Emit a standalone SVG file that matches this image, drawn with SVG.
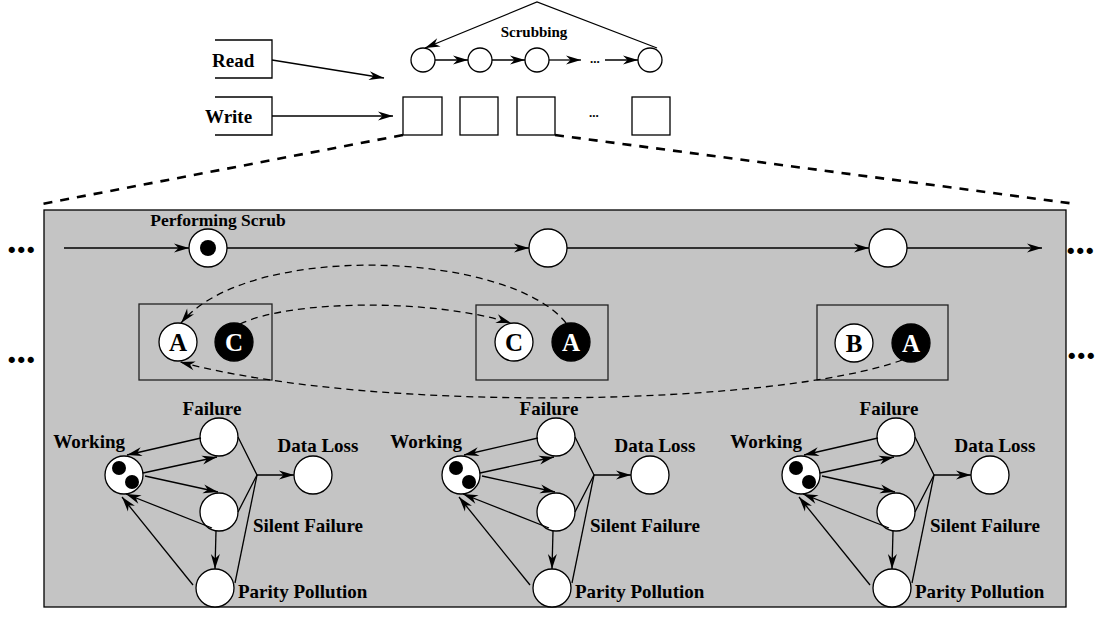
<svg xmlns="http://www.w3.org/2000/svg" width="1096" height="629" viewBox="0 0 1096 629">
<style>
text{font-family:"Liberation Serif","Times New Roman",serif;font-weight:bold;fill:#000}
.lbl{font-size:19px}
.ln{stroke:#000;stroke-width:1.3;fill:none}
.arr{stroke:#000;stroke-width:1.3;fill:none;marker-end:url(#ah)}
.dash{stroke:#000;stroke-width:1.3;fill:none;stroke-dasharray:7 5}
.wc{fill:#fff;stroke:#000;stroke-width:1.3}
.bc{fill:#000;stroke:#000;stroke-width:1.3}
.big{font-size:38px}
.let{font-size:25px;text-anchor:middle}
</style>
<defs>
<marker id="ah" markerUnits="userSpaceOnUse" markerWidth="16" markerHeight="9" refX="15" refY="4.5" orient="auto" overflow="visible">
<path d="M0,0 L15,4.5 L0,9 L4.5,4.5 z" fill="#000"/>
</marker>
</defs>
<rect width="1096" height="629" fill="#fff"/>

<g id="top-inputs">
<path class="ln" d="M215,40 H272 V78 H215"/>
<text class="lbl" x="212" y="67">Read</text>
<path class="ln" d="M215,97 H272 V135 H215"/>
<text class="lbl" x="205" y="123">Write</text>
</g>

<g id="scrub-chain">
<circle class="wc" cx="423" cy="60" r="12"/>
<circle class="wc" cx="480" cy="60" r="12"/>
<circle class="wc" cx="537" cy="60" r="12"/>
<circle class="wc" cx="650" cy="60" r="12"/>
<text x="590" y="63" style="font-size:13px">...</text>
<text x="534" y="37" style="font-size:15px" text-anchor="middle">Scrubbing</text>
</g>

<g id="blocks">
<rect class="ln" x="403" y="97" width="39" height="38"/>
<rect class="ln" x="460" y="97" width="38" height="38"/>
<rect class="ln" x="517" y="97" width="38" height="38"/>
<rect class="ln" x="632" y="97" width="38" height="38"/>
<text x="589" y="117" style="font-size:13px">...</text>
</g>

<g id="detail-panel">
<rect x="44" y="210" width="1022" height="397" fill="#c4c4c4" stroke="#000" stroke-width="1.3"/>
</g>

<g id="outer-dots">
<text class="big" x="7" y="253">...</text>
<text class="big" x="7" y="363">...</text>
<text class="big" x="1066" y="254">...</text>
<text class="big" x="1067" y="359">...</text>
</g>

<g id="timeline-1">
<circle class="wc" cx="208" cy="248" r="19"/>
<circle cx="208" cy="248" r="8" fill="#000"/>
<text x="218" y="226" style="font-size:17.5px" text-anchor="middle">Performing Scrub</text>
</g>
<g id="timeline-2"><circle class="wc" cx="548" cy="248" r="19"/></g>
<g id="timeline-3"><circle class="wc" cx="888" cy="248" r="19"/></g>

<g id="state-box-1">
<rect x="139" y="304" width="133" height="76" fill="none" stroke="#222" stroke-width="1.3"/>
<circle class="wc" cx="178" cy="342" r="19"/>
<text class="let" x="178" y="351">A</text>
<circle class="bc" cx="234" cy="342" r="19"/>
<text class="let" x="234" y="351" style="fill:#fff">C</text>
</g>
<g id="state-box-2">
<rect x="476" y="305" width="132" height="75" fill="none" stroke="#222" stroke-width="1.3"/>
<circle class="wc" cx="514" cy="342" r="19"/>
<text class="let" x="514" y="351">C</text>
<circle class="bc" cx="571" cy="342" r="19"/>
<text class="let" x="571" y="351" style="fill:#fff">A</text>
</g>
<g id="state-box-3">
<rect x="817" y="305" width="131" height="75" fill="none" stroke="#222" stroke-width="1.3"/>
<circle class="wc" cx="854" cy="343" r="19"/>
<text class="let" x="854" y="352">B</text>
<circle class="bc" cx="911" cy="343" r="19"/>
<text class="let" x="911" y="352" style="fill:#fff">A</text>
</g>

<g id="markov-1">
<g id="m1-working"><circle class="wc" cx="124" cy="475" r="19"/><circle cx="119" cy="468" r="7"/><circle cx="132" cy="482" r="7"/><text class="lbl" x="125" y="448" text-anchor="end">Working</text></g>
<g id="m1-failure"><circle class="wc" cx="219" cy="437" r="19"/><text class="lbl" x="212" y="415" text-anchor="middle">Failure</text></g>
<g id="m1-silent"><circle class="wc" cx="219" cy="512" r="19"/><text class="lbl" x="253" y="532">Silent Failure</text></g>
<g id="m1-parity"><circle class="wc" cx="215" cy="588" r="19"/><text class="lbl" x="238" y="598">Parity Pollution</text></g>
<g id="m1-loss"><circle class="wc" cx="313" cy="475" r="19"/><text class="lbl" x="318" y="452" text-anchor="middle">Data Loss</text></g>
</g>
<g id="markov-2" transform="translate(337,0)">
<g id="m2-working"><circle class="wc" cx="124" cy="475" r="19"/><circle cx="119" cy="468" r="7"/><circle cx="132" cy="482" r="7"/><text class="lbl" x="125" y="448" text-anchor="end">Working</text></g>
<g id="m2-failure"><circle class="wc" cx="219" cy="437" r="19"/><text class="lbl" x="212" y="415" text-anchor="middle">Failure</text></g>
<g id="m2-silent"><circle class="wc" cx="219" cy="512" r="19"/><text class="lbl" x="253" y="532">Silent Failure</text></g>
<g id="m2-parity"><circle class="wc" cx="215" cy="588" r="19"/><text class="lbl" x="238" y="598">Parity Pollution</text></g>
<g id="m2-loss"><circle class="wc" cx="313" cy="475" r="19"/><text class="lbl" x="318" y="452" text-anchor="middle">Data Loss</text></g>
</g>
<g id="markov-3" transform="translate(677,0)">
<g id="m3-working"><circle class="wc" cx="124" cy="475" r="19"/><circle cx="119" cy="468" r="7"/><circle cx="132" cy="482" r="7"/><text class="lbl" x="125" y="448" text-anchor="end">Working</text></g>
<g id="m3-failure"><circle class="wc" cx="219" cy="437" r="19"/><text class="lbl" x="212" y="415" text-anchor="middle">Failure</text></g>
<g id="m3-silent"><circle class="wc" cx="219" cy="512" r="19"/><text class="lbl" x="253" y="532">Silent Failure</text></g>
<g id="m3-parity"><circle class="wc" cx="215" cy="588" r="19"/><text class="lbl" x="238" y="598">Parity Pollution</text></g>
<g id="m3-loss"><circle class="wc" cx="313" cy="475" r="19"/><text class="lbl" x="318" y="452" text-anchor="middle">Data Loss</text></g>
</g>

<g id="connectors">
<line class="arr" x1="272" y1="60" x2="384" y2="78"/>
<line class="arr" x1="272" y1="116" x2="393" y2="116"/>
<line class="arr" x1="435" y1="60" x2="468" y2="60"/>
<line class="arr" x1="492" y1="60" x2="525" y2="60"/>
<line class="arr" x1="549" y1="60" x2="581" y2="60"/>
<line class="arr" x1="605" y1="60" x2="638" y2="60"/>
<polyline class="arr" points="657,48 537,2 425,48"/>
<line x1="403" y1="135" x2="42" y2="204" stroke="#000" stroke-width="2.6" stroke-dasharray="9 8"/>
<line x1="555" y1="135" x2="1076" y2="204" stroke="#000" stroke-width="2.6" stroke-dasharray="9 8"/>
<line class="arr" x1="64" y1="248" x2="189" y2="248"/>
<line class="arr" x1="227" y1="248" x2="529" y2="248"/>
<line class="arr" x1="567" y1="248" x2="869" y2="248"/>
<line class="arr" x1="907" y1="248" x2="1042" y2="248"/>
<path class="dash" d="M566,323 C510,252 250,240 181,323" marker-end="url(#ah)"/>
<path class="dash" d="M240,324 C290,300 430,298 511,323" marker-end="url(#ah)"/>
<path class="dash" d="M902,360 C780,405 380,415 180,362" marker-end="url(#ah)"/>
<g id="markov-1-edges">
<line class="arr" x1="201" y1="438" x2="127" y2="455"/>
<line class="arr" x1="143" y1="473" x2="217" y2="457"/>
<line class="arr" x1="145" y1="476" x2="218" y2="492"/>
<line class="arr" x1="212" y1="528" x2="126" y2="494"/>
<line class="arr" x1="216" y1="531" x2="215" y2="569"/>
<line class="arr" x1="193" y1="585" x2="122" y2="497"/>
<polyline class="ln" points="238,437 257,475 238,512"/>
<line class="ln" x1="235" y1="583" x2="257" y2="475"/>
<line class="arr" x1="257" y1="475" x2="294" y2="475"/>
</g>
<g id="markov-2-edges" transform="translate(337,0)">
<line class="arr" x1="201" y1="438" x2="127" y2="455"/>
<line class="arr" x1="143" y1="473" x2="217" y2="457"/>
<line class="arr" x1="145" y1="476" x2="218" y2="492"/>
<line class="arr" x1="212" y1="528" x2="126" y2="494"/>
<line class="arr" x1="216" y1="531" x2="215" y2="569"/>
<line class="arr" x1="193" y1="585" x2="122" y2="497"/>
<polyline class="ln" points="238,437 257,475 238,512"/>
<line class="ln" x1="235" y1="583" x2="257" y2="475"/>
<line class="arr" x1="257" y1="475" x2="294" y2="475"/>
</g>
<g id="markov-3-edges" transform="translate(677,0)">
<line class="arr" x1="201" y1="438" x2="127" y2="455"/>
<line class="arr" x1="143" y1="473" x2="217" y2="457"/>
<line class="arr" x1="145" y1="476" x2="218" y2="492"/>
<line class="arr" x1="212" y1="528" x2="126" y2="494"/>
<line class="arr" x1="216" y1="531" x2="215" y2="569"/>
<line class="arr" x1="193" y1="585" x2="122" y2="497"/>
<polyline class="ln" points="238,437 257,475 238,512"/>
<line class="ln" x1="235" y1="583" x2="257" y2="475"/>
<line class="arr" x1="257" y1="475" x2="294" y2="475"/>
</g>
</g>
</svg>
